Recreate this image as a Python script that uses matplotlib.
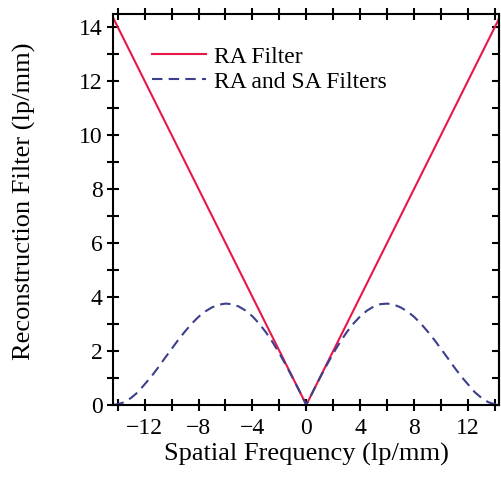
import matplotlib.pyplot as plt

# --- data ---
freq_ra = [-14.3, 0.0, 14.3]
filt_ra = [14.3, 0.0, 14.3]

freq_sa = [-14.3, -14.0, -13.5, -13.0, -12.5, -12.0, -11.5, -11.0, -10.5, -10.0,
           -9.5, -9.0, -8.5, -8.0, -7.5, -7.0, -6.5, -6.0, -5.5, -5.0,
           -4.5, -4.0, -3.5, -3.0, -2.5, -2.0, -1.5, -1.0, -0.5, 0.0,
           0.5, 1.0, 1.5, 2.0, 2.5, 3.0, 3.5, 4.0, 4.5, 5.0,
           5.5, 6.0, 6.5, 7.0, 7.5, 8.0, 8.5, 9.0, 9.5, 10.0,
           10.5, 11.0, 11.5, 12.0, 12.5, 13.0, 13.5, 14.0, 14.3]
filt_sa = [0.0, 0.02, 0.10, 0.26, 0.47, 0.76, 1.05, 1.38, 1.73, 2.07,
           2.41, 2.72, 3.01, 3.26, 3.46, 3.61, 3.71, 3.75, 3.73, 3.64,
           3.49, 3.28, 3.01, 2.69, 2.32, 1.91, 1.46, 0.99, 0.50, 0.0,
           0.50, 0.99, 1.46, 1.91, 2.32, 2.69, 3.01, 3.28, 3.49, 3.64,
           3.73, 3.75, 3.71, 3.61, 3.46, 3.26, 3.01, 2.72, 2.41, 2.07,
           1.73, 1.38, 1.05, 0.76, 0.47, 0.26, 0.10, 0.02, 0.0]

x_major = [-12, -8, -4, 0, 4, 8, 12]
x_minor = [-14, -10, -6, -2, 2, 6, 10, 14]
y_major = [0, 2, 4, 6, 8, 10, 12, 14]
y_minor = [1, 3, 5, 7, 9, 11, 13]

plt.rcParams['font.family'] = ['Liberation Serif', 'DejaVu Serif']
plt.rcParams['axes.linewidth'] = 1.5

fig = plt.figure(figsize=(5.02, 4.78), dpi=100)
ax = fig.add_axes([0.225, 0.153, 0.769, 0.818])

ax.plot(freq_ra, filt_ra, color='#e8174a', lw=1.5, label='RA Filter')
ax.plot(freq_sa, filt_sa, color='#3b3f8c', lw=1.5, dashes=(5, 3),
        label='RA and SA Filters')

ax.set_xlim(-14.35, 14.3)
ax.set_ylim(0, 14.48)
ax.set_xticks(x_major)
ax.set_xticks(x_minor, minor=True)
ax.set_yticks(y_major)
ax.set_yticks(y_minor, minor=True)

ax.tick_params(axis='x', which='both', direction='inout', length=9, width=1.5,
               top=True, labelsize=17, pad=5)
ax.tick_params(axis='y', which='both', direction='inout', length=9, width=1.5,
               right=False, labelsize=17, pad=3)

# right side: inward ticks at every unit, no labels
sec = ax.secondary_yaxis('right')
sec.set_yticks(list(range(0, 15)))
sec.tick_params(direction='in', length=5, width=1.5, labelright=False)
sec.spines['right'].set_linewidth(1.5)

ax.set_xlabel('Spatial Frequency (lp/mm)', fontsize=19)
ax.set_ylabel('Reconstruction Filter (lp/mm)', fontsize=19)
ax.xaxis.set_label_coords(0.5, -0.098)
ax.yaxis.set_label_coords(-0.2, 0.52)

ax.legend(loc='upper left', bbox_to_anchor=(0.045, 0.972), frameon=False,
          fontsize=17, handlelength=2.3, handletextpad=0.35, labelspacing=0.15)

fig.savefig('out.png', dpi=100)
